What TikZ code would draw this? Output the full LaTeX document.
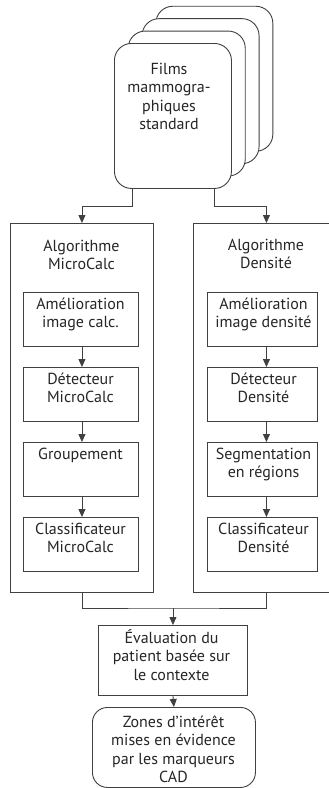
\documentclass[tikz,border=0pt]{standalone}
\usepackage{fontspec}
\setmainfont{PT Sans}
\usetikzlibrary{arrows.meta,calc}
\newcommand{\st}{\rule{0pt}{16pt}}
\begin{document}
\begin{tikzpicture}[x=1pt,y=-1pt,
  ln/.style={draw=black!75, line width=0.9pt},
  arr/.style={ln, -{Triangle[width=7pt,length=8pt]}},
  box/.style={ln, fill=white, inner sep=0pt, anchor=north west},
  card/.style={box, rounded corners=17pt, minimum width=117pt, minimum height=145pt},
  txt/.style={font=\fontsize{16}{18.5}\selectfont, align=center, inner sep=0pt, anchor=north, text=black!85},
]
\useasboundingbox (0,0) rectangle (329,788);
\clip (0,0) rectangle (329,788);
% film stack
\node[card] (f3) at (155.4,5.8) {};
\node[card] (f2) at (141.6,18.2) {};
\node[card] (f1) at (127.8,30.6) {};
\node[card] (f0) at (114,43) {};
\node[txt] (t0) at (169,58) {\st Films\\mammogra-\\phiques\\standard};
% algorithm boxes
\node[box, minimum width=143pt, minimum height=369pt] (L) at (10,223) {};
\node[box, minimum width=146pt, minimum height=369pt] (R) at (193,223) {};
\node[txt] (tL) at (81.5,235) {\st Algorithme\\MicroCalc};
\node[txt] (tR) at (266,234) {\st Algorithme\\Densité};
% left inner
\node[box, minimum width=115pt, minimum height=54pt] (m1) at (23,292) {};
\node[box, minimum width=115pt, minimum height=54pt] (m2) at (23,367) {};
\node[box, minimum width=115pt, minimum height=54pt] (m3) at (23,442) {};
\node[box, minimum width=115pt, minimum height=54pt] (m4) at (23,517) {};
\node[txt] (tm1) at (80.5,293) {\st Amélioration\\image calc.};
\node[txt] (tm2) at (80.5,368) {\st Détecteur\\MicroCalc};
\node[txt] (tm3) at (80.5,443) {\st Groupement};
\node[txt] (tm4) at (80.5,518) {\st Classificateur\\MicroCalc};
% right inner
\node[box, minimum width=110pt, minimum height=54pt] (r1) at (207,292) {};
\node[box, minimum width=110pt, minimum height=54pt] (r2) at (207,367) {};
\node[box, minimum width=110pt, minimum height=54pt] (r3) at (207,442) {};
\node[box, minimum width=110pt, minimum height=54pt] (r4) at (207,517) {};
\node[txt] (tr1) at (263.5,293) {\st Amélioration\\image densité};
\node[txt] (tr2) at (263.5,368) {\st Détecteur\\Densité};
\node[txt] (tr3) at (263.5,443) {\st Segmentation\\en régions};
\node[txt] (tr4) at (263.5,518) {\st Classificateur\\Densité};
% bottom
\node[box, minimum width=149pt, minimum height=70pt] (E) at (98,625) {};
\node[txt] (tE) at (171.5,627) {\st Évaluation du\\patient basée sur\\le contexte};
\node[box, rounded corners=15pt, minimum width=163pt, minimum height=80pt] (F) at (92,707) {};
\node[txt] (tF) at (173.5,711) {\st Zones d’intérêt\\mises en évidence\\par les marqueurs\\CAD};
% connectors
\draw[arr] ($(f0.south west)+(18,0)$) -- ++(0,18) -| (L.north);
\draw[arr] ($(f0.south east)+(-17,0)$) -- ++(0,18) -| (R.north);
\draw[arr] (m1.south -| L.north) -- (m2.north -| L.north);
\draw[arr] (m2.south -| L.north) -- (m3.north -| L.north);
\draw[arr] (m3.south -| L.north) -- (m4.north -| L.north);
\draw[arr] (r1.south -| R.north) -- (r2.north -| R.north);
\draw[arr] (r2.south -| R.north) -- (r3.north -| R.north);
\draw[arr] (r3.south -| R.north) -- (r4.north -| R.north);
\coordinate (J) at ($(E.north)+(0,-17)$);
\draw[ln] (L.south) |- (J) -| (R.south);
\draw[arr] (J) -- (E.north);
\draw[arr] (E.south) -- (F.north);
\end{tikzpicture}
\end{document}
